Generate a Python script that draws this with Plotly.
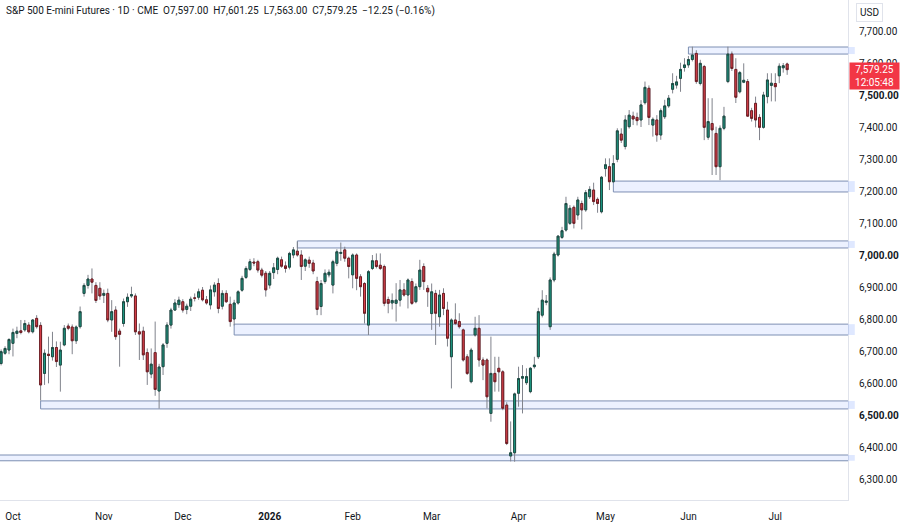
import pandas as pd
import plotly.graph_objects as go

# ---------------- data ----------------
dates = pd.bdate_range("2025-09-26", "2026-07-06")
holidays = pd.to_datetime(["2025-12-25", "2026-01-01"])
dates = dates[~dates.isin(holidays)]

opens = [6661,6693,6703,6724,6755,6763,6766,6781,6760,6802,6780,6630,6690,6682,6711,6656,6719,6778,6775,6732,
         6776,6880,6905,6925,6905,6896,6874,6880,6797,6828,6762,6786,6854,6872,6872,6760,6762,6695,6628,6695,
         6575,6651,6724,6781,6828,6845,6854,6830,6840,6866,6868,6890,6860,6844,6885,6911,6840,6880,6846,6800,
         6850,6890,6930,6955,6978,6979,6953,6943,6906,6945,6955,6985,6966,6962,7000,7012,7000,6965,6984,6975,
         6917,6839,6917,6938,6906,6974,7005,7016,6990,6938,7000,6932,6911,6781,6958,6982,6968,6964,6861,6850,
         6849,6859,6891,6875,6917,6854,6901,6964,6896,6817,6880,6807,6880,6828,6682,6797,6792,6766,6682,6604,
         6750,6771,6672,6672,6505,6630,6646,6635,6531,6372,6382,6568,6615,6601,6573,6651,6682,6812,6852,6776,
         6922,7000,7055,7078,7099,7149,7125,7161,7141,7182,7203,7174,7135,7270,7276,7229,7299,7378,7339,7401,
         7434,7430,7422,7476,7521,7406,7422,7375,7432,7466,7518,7531,7552,7586,7594,7611,7630,7536,7589,7368,
         7411,7380,7276,7396,7542,7628,7580,7510,7540,7542,7451,7474,7430,7399,7495,7530,7536,7560,7585,7597]
highs = [6705,6715,6740,6770,6776,6797,6797,6790,6800,6812,6790,6705,6745,6760,6730,6729,6781,6786,6783,6780,
         6839,6912,6938,6958,6915,6915,6892,6895,6859,6840,6770,6864,6880,6901,6880,6786,6776,6708,6708,6792,
         6660,6725,6790,6835,6862,6870,6862,6848,6870,6880,6895,6900,6872,6905,6915,6927,6890,6890,6870,6860,
         6890,6935,6965,6988,6990,6985,6960,6950,6950,6975,6995,6995,6980,7010,7025,7042,7015,6990,6995,6985,
         6932,6922,6955,6955,6985,7018,7039,7026,6995,7005,7005,6940,6915,6953,7000,7005,7005,6970,6870,6880,
         6912,6922,6912,6927,6927,6911,6985,6974,6906,6911,6891,6891,6896,6854,6802,6849,6818,6770,6690,6710,
         6807,6812,6680,6677,6745,6682,6682,6640,6540,6480,6570,6651,6656,6646,6650,6682,6835,6890,6875,6930,
         7010,7062,7088,7182,7156,7155,7182,7170,7203,7215,7226,7180,7247,7302,7302,7312,7396,7396,7437,7453,
         7448,7445,7484,7542,7530,7430,7437,7458,7485,7500,7568,7560,7601,7615,7622,7651,7640,7610,7594,7490,
         7490,7401,7405,7463,7651,7636,7615,7575,7599,7550,7460,7495,7440,7510,7568,7568,7568,7599,7600,7601.25]
lows = [6655,6688,6690,6683,6740,6752,6760,6755,6755,6770,6545,6594,6599,6670,6650,6573,6715,6765,6690,6722,
        6770,6870,6895,6880,6850,6860,6850,6790,6760,6735,6651,6776,6838,6866,6750,6672,6672,6594,6615,6560,
        6520,6625,6710,6770,6825,6835,6820,6815,6825,6855,6860,6855,6845,6830,6870,6818,6830,6850,6776,6780,
        6845,6885,6925,6950,6965,6945,6930,6870,6895,6925,6940,6960,6945,6955,6990,6995,6922,6950,6960,6940,
        6812,6812,6910,6930,6880,6965,6982,6979,6927,6896,6890,6870,6786,6750,6953,6958,6953,6840,6818,6830,
        6792,6839,6870,6833,6844,6849,6891,6891,6838,6766,6719,6776,6812,6714,6583,6781,6770,6667,6625,6599,
        6745,6651,6609,6521,6479,6573,6573,6515,6406,6355,6354,6526,6505,6594,6568,6645,6675,6805,6843,6766,
        6915,6995,7050,7073,7094,7083,7110,7080,7135,7175,7156,7132,7130,7245,7203,7225,7290,7350,7330,7395,
        7406,7405,7400,7470,7406,7370,7354,7360,7425,7460,7505,7520,7510,7573,7585,7605,7535,7530,7359,7360,
        7250,7250,7234,7390,7537,7575,7475,7505,7537,7432,7417,7399,7359,7395,7474,7480,7480,7537,7570,7563]
closes = [6698,6708,6736,6758,6762,6758,6786,6760,6797,6776,6594,6693,6686,6711,6667,6703,6771,6771,6732,6775,
          6823,6905,6925,6915,6858,6872,6880,6797,6823,6745,6752,6854,6868,6876,6760,6753,6688,6635,6659,6580,
          6650,6719,6781,6828,6850,6859,6828,6840,6862,6865,6885,6860,6850,6891,6906,6833,6880,6854,6792,6850,
          6885,6927,6958,6979,6975,6953,6937,6891,6943,6960,6990,6965,6958,7005,7016,7000,6964,6985,6974,6950,
          6830,6911,6943,6946,6979,7010,7008,6990,6964,7000,6927,6901,6818,6948,6982,6964,6958,6849,6849,6858,
          6859,6891,6875,6922,6849,6901,6953,6917,6885,6885,6818,6875,6833,6740,6797,6786,6776,6672,6630,6703,
          6771,6672,6656,6557,6630,6604,6635,6521,6411,6382,6566,6614,6620,6620,6646,6656,6823,6859,6856,6922,
          7003,7059,7076,7161,7146,7099,7172,7141,7195,7205,7167,7161,7243,7282,7229,7286,7388,7359,7422,7437,
          7425,7420,7469,7524,7430,7424,7375,7451,7466,7490,7536,7541,7580,7594,7611,7625,7542,7599,7399,7417,
          7391,7276,7396,7434,7628,7583,7493,7570,7546,7434,7427,7422,7399,7500,7547,7537,7526,7590,7591.5,7579.25]

# support / resistance zones drawn on the chart (start date, low, high)
zone_start = ["2026-06-01", "2026-05-05", "2026-01-13", "2025-12-18", "2025-10-10", "2025-09-01"]
zone_low = [7628, 7197, 7022, 6750, 6519, 6357]
zone_high = [7650, 7231, 7044, 6784, 6544, 6375]

price_ticks = [6300, 6400, 6500, 6600, 6700, 6800, 6900, 7000, 7100, 7200, 7300, 7400, 7500, 7600, 7700]
bold_ticks = [6500, 7000, 7500]
bar_timer = "12:05:48"

# ---------------- figure ----------------
n = len(dates)
xi = list(range(n))
X_RANGE = [-0.28, 214.4]
Y_RANGE = [6234.4, 7796.9]

UP, DN = "#1c9c86", "#e0434d"
UP_EDGE, DN_EDGE = "#1d4a42", "#6e1d23"
WICK = "#80838c"

body_hi = [max(a, b) for a, b in zip(opens, closes)]
body_lo = [min(a, b) for a, b in zip(opens, closes)]

fig = go.Figure()
fig.add_trace(go.Candlestick(
    x=xi, open=opens, high=highs, low=lows, close=closes,
    increasing=dict(line=dict(color=WICK, width=1), fillcolor=WICK),
    decreasing=dict(line=dict(color=WICK, width=1), fillcolor=WICK),
    whiskerwidth=0, hoverinfo="skip", showlegend=False))
fig.add_trace(go.Candlestick(
    x=xi, open=opens, high=body_hi, low=body_lo, close=closes,
    increasing=dict(line=dict(color=UP_EDGE, width=1), fillcolor=UP),
    decreasing=dict(line=dict(color=DN_EDGE, width=1), fillcolor=DN),
    whiskerwidth=0, hoverinfo="skip", showlegend=False))

date_pos = {d.strftime("%Y-%m-%d"): i for i, d in enumerate(dates)}
for s, lo, hi in zip(zone_start, zone_low, zone_high):
    x0 = date_pos.get(s, X_RANGE[0] - 2)
    fig.add_shape(type="rect", xref="x", yref="y", x0=x0, x1=X_RANGE[1] + 5,
                  y0=lo, y1=hi, fillcolor="rgba(41,98,255,0.09)",
                  line=dict(color="#7d8fb3", width=1), layer="below")
    fig.add_shape(type="rect", xref="paper", yref="y", x0=1.0, x1=1.008,
                  y0=lo, y1=hi, fillcolor="rgba(41,98,255,0.15)", line=dict(width=0))

# month ticks at the first bar of every month
tickvals, ticktext = [], []
prev = None
for i, d in enumerate(dates):
    key = (d.year, d.month)
    if prev is not None and key != prev:
        tickvals.append(i)
        ticktext.append(f"<b>{d.year}</b>" if d.month == 1 else d.strftime("%b"))
    prev = key

ytext = [f"<b>{v:,.2f}</b>" if v in bold_ticks else f"{v:,.2f}" for v in price_ticks]

FONT = "Roboto, Arial, sans-serif"
fig.update_layout(
    width=900, height=524,
    margin=dict(l=0, r=52, t=0, b=24),
    paper_bgcolor="white", plot_bgcolor="white",
    font=dict(family=FONT, size=10, color="#131722"),
    showlegend=False, boxmode="overlay",
    xaxis=dict(range=X_RANGE, tickvals=tickvals, ticktext=ticktext, showgrid=False,
               zeroline=False, showline=True, linecolor="#e0e3eb", ticks="",
               rangeslider=dict(visible=False), fixedrange=True, automargin=False,
               ticklabelstandoff=7, tickfont=dict(size=10, color="#131722")),
    yaxis=dict(range=Y_RANGE, side="right", tickvals=price_ticks, ticktext=ytext,
               showgrid=False, zeroline=False, showline=True, linecolor="#e0e3eb",
               ticks="", ticklabelstandoff=8, automargin=False,
               tickfont=dict(size=10, color="#131722")),
)

# header
last_o, last_h, last_l, last_c = opens[-1], highs[-1], lows[-1], closes[-1]
chg = last_c - closes[-2]
pct = chg / closes[-2] * 100
sp = "\u00a0\u00a0"
header = (f"S&P 500 E-mini Futures · 1D · CME{sp}O{last_o:,.2f}{sp}H{last_h:,.2f}{sp}"
          f"L{last_l:,.2f}{sp}C{last_c:,.2f}{sp}{chg:+,.2f} ({pct:+.2f}%)").replace("-", "\u2212")
header = header.replace("E\u2212mini", "E-mini")
fig.add_annotation(xref="paper", yref="paper", x=0, y=1, xanchor="left", yanchor="top",
                   xshift=4, yshift=-3, text=header, showarrow=False,
                   font=dict(size=10, color="#131722"))

# currency label
fig.add_annotation(xref="paper", yref="paper", x=1, y=1, xanchor="left", yanchor="top",
                   xshift=8, yshift=-3, text="USD", showarrow=False,
                   font=dict(size=10, color="#131722"), bordercolor="#e0e3eb",
                   borderwidth=1, borderpad=3, bgcolor="white")

# last price tag
fig.add_annotation(xref="paper", yref="y", x=1, y=last_c, xanchor="left", yanchor="top",
                   xshift=1, yshift=7.5, text=f"{last_c:,.2f}<br>{bar_timer}", showarrow=False,
                   align="center", font=dict(size=10, color="white"), bgcolor="#f23645",
                   borderpad=2, width=45, height=22)

fig.write_html("out.html")
